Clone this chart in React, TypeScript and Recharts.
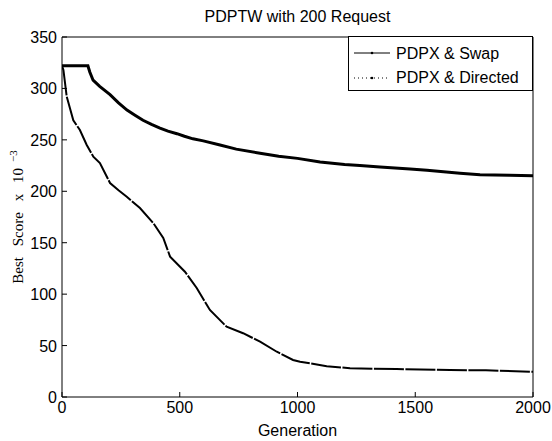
import React from 'react';
import { LineChart, Line, XAxis, YAxis, Legend } from 'recharts';

const swapGen = [0, 110, 118, 132, 160, 204, 240, 276, 310, 344, 380, 416, 450, 488, 520, 556, 600, 671, 740, 841, 920, 1000, 1096, 1200, 1265, 1350, 1478, 1550, 1690, 1775, 1900, 2000];
const swapScore = [322, 322, 316, 308, 302, 294, 286, 279, 274, 269, 265, 261.5, 258.5, 256, 253.5, 251, 249, 245, 241, 237, 234, 232, 228.5, 226, 225, 223.6, 221.7, 220.5, 217.5, 216, 215.5, 215];

const directedGen = [0, 6, 20, 48, 76, 105, 133, 161, 204, 240, 275, 331, 388, 430, 459, 522, 572, 628, 699, 769, 841, 912, 981, 1011, 1124, 1223, 1421, 1648, 1800, 2000];
const directedScore = [322, 318, 292, 269, 259.6, 245, 233.6, 227.5, 208, 201, 194.7, 183.7, 169, 154.6, 136.4, 121.8, 106, 84.6, 68.3, 62, 53.8, 44, 36, 34.3, 30, 27.9, 27.2, 26.2, 26, 24.5];

const xTicks = [0, 500, 1000, 1500, 2000];
const yTicks = [0, 50, 100, 150, 200, 250, 300, 350];

const swapData = swapGen.map((g, i) => ({ gen: g, score: swapScore[i] }));
const directedData = directedGen.map((g, i) => ({ gen: g, score: directedScore[i] }));

const sans = 'Liberation Sans, Arial, sans-serif';
const serif = 'Liberation Serif, Times New Roman, serif';

const LeftTick = (props: any) => {
  const { x, y, payload } = props;
  return (
    <g>
      <line x1={x} x2={x + 5} y1={y} y2={y} stroke="#000" />
      <text x={x - 5} y={y} dy={6} textAnchor="end" fontSize={16} fontFamily={sans} fill="#000">{payload.value}</text>
    </g>
  );
};

const BottomTick = (props: any) => {
  const { x, y, payload } = props;
  return (
    <g>
      <line x1={x} x2={x} y1={y} y2={y - 5} stroke="#000" />
      <text x={x} y={y + 16} textAnchor="middle" fontSize={16} fontFamily={sans} fill="#000">{payload.value}</text>
    </g>
  );
};

const TopTick = (props: any) => {
  const { x, y } = props;
  return <line x1={x} x2={x} y1={y} y2={y + 5} stroke="#000" />;
};

const RightTick = (props: any) => {
  const { x, y } = props;
  return <line x1={x} x2={x - 5} y1={y} y2={y} stroke="#000" />;
};

const LegendBox = () => (
  <div style={{ position: 'relative', width: 185, height: 55, border: '1px solid #000', background: '#fff', boxSizing: 'border-box', fontFamily: sans, fontSize: 16, lineHeight: '18px', color: '#000' }}>
    <svg width={36} height={6} style={{ position: 'absolute', left: 5, top: 13 }}>
      <line x1={0} x2={36} y1={3} y2={3} stroke="#000" strokeWidth={1} />
      <circle cx={18} cy={3} r={1.3} fill="#000" />
    </svg>
    <span style={{ position: 'absolute', left: 47, top: 8, whiteSpace: 'nowrap' }}>PDPX &amp; Swap</span>
    <svg width={36} height={6} style={{ position: 'absolute', left: 5, top: 38 }}>
      <line x1={0} x2={36} y1={3} y2={3} stroke="#000" strokeWidth={1} strokeDasharray="1 3" />
      <circle cx={18} cy={3} r={1.3} fill="#000" />
    </svg>
    <span style={{ position: 'absolute', left: 47, top: 32, whiteSpace: 'nowrap' }}>PDPX &amp; Directed</span>
  </div>
);

export default function App() {
  return (
    <div style={{ position: 'absolute', left: 0, top: 0, width: 552, height: 441, background: '#fff' }}>
      <div style={{ position: 'absolute', left: 62, width: 471, top: 8, textAlign: 'center', fontFamily: sans, fontSize: 16, lineHeight: '18px' }}>
        PDPTW with 200 Request
      </div>
      <div style={{ position: 'absolute', left: 62, width: 471, top: 422, textAlign: 'center', fontFamily: sans, fontSize: 16, lineHeight: '18px' }}>
        Generation
      </div>
      <div style={{ position: 'absolute', left: 18 - 80, top: 217 - 8, width: 160, height: 16, lineHeight: '16px', textAlign: 'center', transform: 'rotate(-90deg)', whiteSpace: 'nowrap', fontFamily: serif, fontSize: 15, wordSpacing: 7 }}>
        Best Score x 10<span style={{ fontSize: 11, position: 'relative', top: -6, marginLeft: 6 }}>−3</span>
      </div>
      <LineChart width={552} height={441} margin={{ top: 36, right: 18, bottom: 43, left: 61 }}>
        <XAxis xAxisId="b" type="number" dataKey="gen" domain={[0, 2000]} ticks={xTicks} height={1} tickSize={0} tickMargin={0} tickLine={false} axisLine={{ stroke: '#000' }} tick={BottomTick} allowDataOverflow />
        <XAxis xAxisId="t" orientation="top" type="number" dataKey="gen" domain={[0, 2000]} ticks={xTicks} height={1} tickSize={0} tickMargin={0} tickLine={false} axisLine={{ stroke: '#000' }} tick={TopTick} />
        <YAxis yAxisId="l" type="number" domain={[0, 350]} ticks={yTicks} width={1} tickSize={0} tickMargin={0} tickLine={false} axisLine={{ stroke: '#000' }} tick={LeftTick} allowDataOverflow />
        <YAxis yAxisId="r" orientation="right" type="number" domain={[0, 350]} ticks={yTicks} width={1} tickSize={0} tickMargin={0} tickLine={false} axisLine={{ stroke: '#000' }} tick={RightTick} />
        <Legend layout="vertical" align="center" verticalAlign="middle" content={LegendBox} wrapperStyle={{ left: 348, top: 36, width: 185, height: 55 }} />
        <Line xAxisId="b" yAxisId="l" data={swapData} dataKey="score" name="PDPX & Swap" type="linear" stroke="#000" strokeWidth={3} dot={false} isAnimationActive={false} />
        <Line xAxisId="b" yAxisId="l" data={directedData} dataKey="score" name="PDPX & Directed" type="linear" stroke="#000" strokeWidth={2} strokeDasharray="30 1.5" dot={false} isAnimationActive={false} />
      </LineChart>
    </div>
  );
}
